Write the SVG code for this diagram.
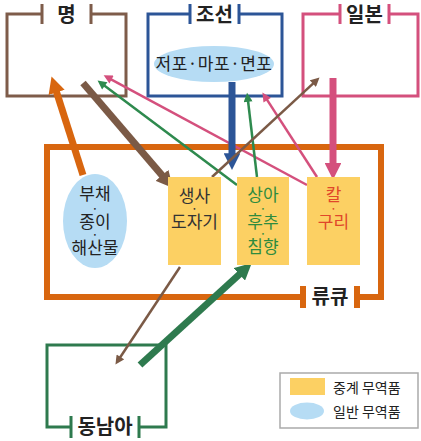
<svg xmlns="http://www.w3.org/2000/svg" width="421" height="441" viewBox="0 0 421 441">
<style>
.bg{fill:#ffffff}
.frame{fill:none;stroke-width:3}
.title{font-family:"Noto Sans CJK KR","Noto Sans",sans-serif;font-size:20px;font-weight:bold;fill:#222;text-anchor:middle}
.item{font-family:"Noto Sans CJK KR","Noto Sans",sans-serif;font-size:17px;text-anchor:middle}
.dot{font-size:9px;font-weight:bold}
.goods{fill:#fcd063}
.general{fill:#b6dcf4}
.leg{font-family:"Noto Sans CJK KR","Noto Sans",sans-serif;font-size:14px;fill:#222}
.thin{stroke-width:2.5;fill:none}
.thick{stroke-width:7;fill:none}
</style>
<defs>
<marker id="mThinGreen" viewBox="0 0 10 10" refX="3" refY="5" markerWidth="4" markerHeight="3.6" orient="auto" markerUnits="strokeWidth"><path d="M0,0 L10,5 L0,10 z" fill="#2e8a4e"/></marker>
<marker id="mThinPink" viewBox="0 0 10 10" refX="3" refY="5" markerWidth="4" markerHeight="3.6" orient="auto" markerUnits="strokeWidth"><path d="M0,0 L10,5 L0,10 z" fill="#d4507d"/></marker>
<marker id="mThinBrown" viewBox="0 0 10 10" refX="3" refY="5" markerWidth="4" markerHeight="3.6" orient="auto" markerUnits="strokeWidth"><path d="M0,0 L10,5 L0,10 z" fill="#7b5a46"/></marker>
<marker id="mThickOrange" viewBox="0 0 10 10" refX="3" refY="5" markerWidth="2.4" markerHeight="2.4" orient="auto" markerUnits="strokeWidth"><path d="M0,0 L10,5 L0,10 z" fill="#d8660f"/></marker>
<marker id="mThickBrown" viewBox="0 0 10 10" refX="3" refY="5" markerWidth="2.4" markerHeight="2.4" orient="auto" markerUnits="strokeWidth"><path d="M0,0 L10,5 L0,10 z" fill="#7b5a46"/></marker>
<marker id="mThickBlue" viewBox="0 0 10 10" refX="3" refY="5" markerWidth="2.4" markerHeight="2.4" orient="auto" markerUnits="strokeWidth"><path d="M0,0 L10,5 L0,10 z" fill="#2c5597"/></marker>
<marker id="mThickPink" viewBox="0 0 10 10" refX="3" refY="5" markerWidth="2.4" markerHeight="2.4" orient="auto" markerUnits="strokeWidth"><path d="M0,0 L10,5 L0,10 z" fill="#d4507d"/></marker>
<marker id="mThickGreen" viewBox="0 0 10 10" refX="3" refY="5" markerWidth="2.4" markerHeight="2.4" orient="auto" markerUnits="strokeWidth"><path d="M0,0 L10,5 L0,10 z" fill="#2e7a4e"/></marker>
</defs>
<rect class="bg" x="0" y="0" width="421" height="441"/>

<g id="ming">
<path class="frame" stroke="#7e5c4a" d="M42,14 H7 V96 H126 V14 H91 M42,4 V24 M91,4 V24"/>
<text class="title" x="66.5" y="22">명</text>
</g>

<g id="joseon">
<path class="frame" stroke="#2c5597" d="M190,14 H148 V96 H282 V14 H239 M190,4 V24 M239,4 V24"/>
<text class="title" x="214.5" y="22">조선</text>
<ellipse class="general" cx="214" cy="64" rx="60" ry="18"/>
<text class="item" x="214" y="70" fill="#222" letter-spacing="0.5">저포·마포·면포</text>
</g>

<g id="japan">
<path class="frame" stroke="#d4507d" d="M340,14 H303 V96 H418 V14 H389 M340,4 V24 M389,4 V24"/>
<text class="title" x="364.5" y="22">일본</text>
</g>

<g id="ryukyu">
<path fill="none" stroke="#d8660f" stroke-width="6" d="M303,297 H47 V147 H381 V297 H357 M303,286 V308 M357,286 V308"/>
<text class="title" x="330" y="304">류큐</text>
</g>

<g id="southeast-asia">
<path class="frame" stroke="#2e7a4e" d="M71,427 H47 V345 H166 V427 H139 M71,416 V438 M139,416 V438"/>
<text class="title" x="105" y="434">동남아</text>
</g>

<g id="connectors">
<line class="thin" stroke="#2e8a4e" x1="237" y1="185" x2="102.6" y2="84.2" marker-end="url(#mThinGreen)"/>
<line class="thin" stroke="#d4507d" x1="307" y1="185" x2="109.2" y2="78.3" marker-end="url(#mThinPink)"/>
<line class="thin" stroke="#2e8a4e" x1="257" y1="177" x2="247.8" y2="99" marker-end="url(#mThinGreen)"/>
<line class="thin" stroke="#d4507d" x1="317" y1="177" x2="265.8" y2="97.9" marker-end="url(#mThinPink)"/>
<line class="thick" stroke="#2c5597" x1="232" y1="82" x2="232" y2="158.2" marker-end="url(#mThickBlue)"/>
<line class="thin" stroke="#7b5a46" x1="212" y1="177" x2="314.9" y2="81.8" marker-end="url(#mThinBrown)"/>
<line class="thick" stroke="#d4507d" stroke-width="6" x1="333" y1="78" x2="333" y2="167.9" marker-end="url(#mThickPink)"/>
<line class="thick" stroke="#d8660f" stroke-width="6" x1="83" y1="175" x2="55.1" y2="87.6" marker-end="url(#mThickOrange)"/>
<line class="thick" stroke="#7b5a46" x1="83" y1="83" x2="165.3" y2="179.1" marker-end="url(#mThickBrown)"/>
<line class="thin" stroke="#7b5a46" x1="180" y1="267" x2="118.9" y2="359.2" marker-end="url(#mThinBrown)"/>
<line class="thick" stroke="#2e7a4e" stroke-width="8" x1="140" y1="365" x2="243.1" y2="271" marker-end="url(#mThickGreen)"/>
</g>

<g id="ryukyu-general">
<ellipse class="general" cx="95" cy="221" rx="32" ry="47"/>
<text class="item" fill="#222"><tspan x="95" y="200">부채</tspan><tspan class="dot" x="95" y="211.5">·</tspan><tspan x="95" y="228">종이</tspan><tspan class="dot" x="95" y="237.5">·</tspan><tspan x="95" y="254">해산물</tspan></text>
</g>

<g id="silk-ceramics">
<rect class="goods" x="168" y="177" width="53" height="88"/>
<text class="item" fill="#333"><tspan x="194.5" y="202">생사</tspan><tspan class="dot" x="194.5" y="211.5">·</tspan><tspan x="194.5" y="228">도자기</tspan></text>
</g>

<g id="ivory-pepper">
<rect class="goods" x="237" y="177" width="52" height="88"/>
<text class="item" fill="#2e8b3e"><tspan x="263" y="201">상아</tspan><tspan class="dot" x="263" y="211.5">·</tspan><tspan x="263" y="228">후추</tspan><tspan class="dot" x="263" y="237">·</tspan><tspan x="263" y="253">침향</tspan></text>
</g>

<g id="sword-copper">
<rect class="goods" x="307" y="177" width="53" height="88"/>
<text class="item" fill="#e0472a"><tspan x="333.5" y="201">칼</tspan><tspan class="dot" x="333.5" y="211.5">·</tspan><tspan x="333.5" y="228">구리</tspan></text>
</g>

<g id="legend">
<rect x="280" y="373" width="138" height="55" fill="#fff" stroke="#aaaaaa" stroke-width="1.5"/>
<rect class="goods" x="290" y="378" width="35" height="17"/>
<text class="leg" x="333" y="393">중계 무역품</text>
<ellipse class="general" cx="307" cy="411" rx="17" ry="8.5"/>
<text class="leg" x="333" y="417">일반 무역품</text>
</g>
</svg>
